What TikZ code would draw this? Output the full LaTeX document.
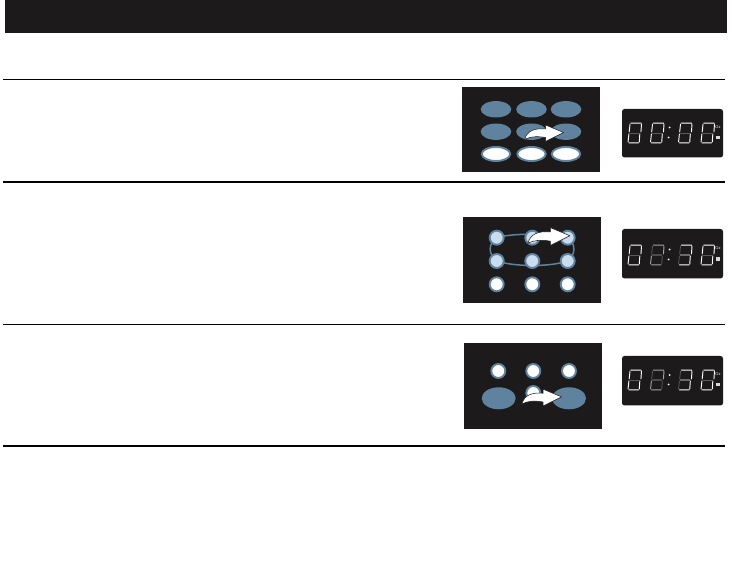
\documentclass[tikz,border=0pt]{standalone}
\usepackage{fontspec}
\setmainfont{Liberation Sans}
\definecolor{panel}{HTML}{1C1A1B}
\definecolor{keyblue}{HTML}{5F829F}
\definecolor{keylight}{HTML}{C9DDEF}
\definecolor{segdim}{HTML}{5A5A5C}
\tikzset{
  panelbox/.style={fill=panel,draw=none},
  dispbox/.style={fill=panel,draw=none,rounded corners=2.5pt},
  keyfull/.style={fill=keyblue,draw=none},
  keywhite/.style={fill=white,draw=keyblue,line width=1.9pt},
  keypale/.style={fill=keylight,draw=keyblue,line width=1.9pt},
  linkline/.style={draw=keyblue,line width=1.5pt},
  rulethin/.style={draw=black,line width=0.8pt},
  rulethick/.style={draw=black,line width=1.5pt},
  bendarrow/.style={fill=white,draw=panel,line width=0.5pt,line join=round},
  seglit/.style={draw=white,line width=0.95pt,line cap=round,line join=round},
  segoff/.style={draw=segdim,line width=0.8pt,line cap=round},
  digitframe/.style={xscale=1.4},
}
\newcommand{\digitzero}[2]{%
  \begin{scope}[shift={(#1,#2)},digitframe]
    \draw[segoff] (-3.4,0)--(3.4,0);
    \draw[seglit] (-2.6,-9.9)--(4.6,-9.9) (5,-8.9)--(4.6,-1) (-3.2,-8.9)--(-3.8,-1)
                  (-4,1)--(-4.6,8.9) (3.8,1)--(3.4,8.9) (-3.9,9.9)--(2.9,9.9);
  \end{scope}}
\newcommand{\digittwo}[2]{%
  \begin{scope}[shift={(#1,#2)},digitframe]
    \draw[segoff] (-3.2,-8.9)--(-3.8,-1) (3.8,1)--(3.4,8.9);
    \draw[seglit,draw=white!65!black] (-2.6,-9.9)--(4.6,-9.9) (5,-8.9)--(4.6,-1) (-3.4,0)--(3.4,0)
                  (-4,1)--(-4.6,8.9) (-3.9,9.9)--(2.9,9.9);
  \end{scope}}
\newcommand{\digitthree}[2]{%
  \begin{scope}[shift={(#1,#2)},digitframe]
    \draw[segoff] (-3.2,-8.9)--(-3.8,-1) (-4,1)--(-4.6,8.9);
    \draw[seglit] (-2.6,-9.9)--(4.6,-9.9) (5,-8.9)--(4.6,-1) (-3.4,0)--(3.4,0)
                  (3.8,1)--(3.4,8.9) (-3.9,9.9)--(2.9,9.9);
  \end{scope}}
\newcommand{\bentarrow}[3]{%
  \filldraw[bendarrow,shift={(#1,#2)},scale=#3]
    (0,0) .. controls (3,-9) and (10,-11.5) .. (21,-10.5)
    -- (21,-14.5) -- (39,-7) -- (21,2) -- (21,-2)
    .. controls (12,-3.5) and (6,-3) .. (0,0) -- cycle;}
\begin{document}
\begin{tikzpicture}[x=1pt,y=-1pt]
\useasboundingbox (0,0) rectangle (732,569);
\fill[panel] (5,0) rectangle (727,33);
\draw[rulethin] (3,79.5) -- (725,79.5);
\draw[rulethick] (3,182) -- (725,182);
\draw[rulethin] (3,324.5) -- (725,324.5);
\draw[rulethick] (3,446) -- (725,446);

% panel 1
\fill[panelbox] (461.5,87) rectangle (600,172.5);
\foreach \x in {496,531.5,566}{
  \fill[keyfull] (\x,109.3) ellipse [x radius=15.3,y radius=8.2];
  \fill[keyfull] (\x,131.7) ellipse [x radius=15.3,y radius=8.2];
  \draw[keywhite] (\x,154) ellipse [x radius=14.2,y radius=7];
}
\bentarrow{524.5}{139.5}{1}

% panel 2
\fill[panelbox] (463,217.5) rectangle (601,303);
\draw[linkline] (496.7,237.7) .. controls (510,233) and (555,233) .. (567.7,237.7)
  .. controls (576,244) and (576,254) .. (567.7,261)
  .. controls (550,267) and (515,267) .. (496.7,261)
  .. controls (488,254) and (488,244) .. (496.7,237.7) -- cycle;
\foreach \x in {496.7,532.3,567.7}{
  \draw[keypale] (\x,237.7) circle [radius=7];
  \draw[keypale] (\x,261) circle [radius=7];
  \draw[keywhite] (\x,284.3) circle [radius=7];
}
\bentarrow{527.7}{243.3}{1.08}

% panel 3
\fill[panelbox] (463.5,343) rectangle (602,429);
\foreach \x in {498.3,533.3,569}{
  \draw[keywhite] (\x,371) circle [radius=7];
}
\draw[keywhite] (533.3,393) circle [radius=7];
\fill[keyfull] (498.7,398.3) ellipse [x radius=17,y radius=11];
\fill[keyfull] (569,398.3) ellipse [x radius=17,y radius=11];
\bentarrow{521.7}{404}{1.02}

% display 1
\fill[dispbox] (622,109) rectangle (723,157.5);
\digitzero{634.5}{133}\digitzero{657}{133}\digitzero{685}{133}\digitzero{707.5}{133}
\fill[white] (669.5,127.5) circle [radius=1] (668.5,137.5) circle [radius=1];
\node[text=white,font=\fontsize{4}{4}\selectfont,inner sep=0pt] (oza) at (718,127) {Oz};
\fill[white!85!black] (716,136) rectangle (720,139.5);

% display 2
\fill[dispbox] (622,229) rectangle (723,278.5);
\digitzero{634.5}{255}\digittwo{657}{255}\digitthree{685}{255}\digitzero{707.5}{255}
\fill[white] (669.5,249.5) circle [radius=1] (668.5,259.5) circle [radius=1];
\node[text=white,font=\fontsize{4}{4}\selectfont,inner sep=0pt] (ozb) at (718,248) {Oz};
\fill[white!85!black] (716,257.5) rectangle (720,261);

% display 3
\fill[dispbox] (622,356) rectangle (723,405.5);
\digitzero{634.5}{380}\digittwo{657}{380}\digitthree{685}{380}\digitzero{707.5}{380}
\fill[white] (669.5,375) circle [radius=1] (668.5,384.5) circle [radius=1];
\node[text=white,font=\fontsize{4}{4}\selectfont,inner sep=0pt] (ozc) at (718,374.5) {Oz};
\fill[white!85!black] (716,383) rectangle (720,386.5);
\end{tikzpicture}
\end{document}
